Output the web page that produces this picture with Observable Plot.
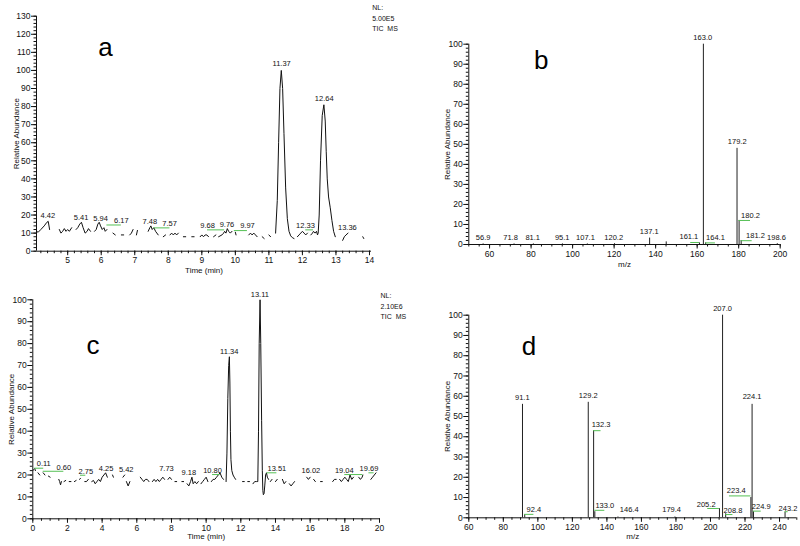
<!DOCTYPE html>
<html><head><meta charset="utf-8">
<script src="https://cdn.jsdelivr.net/npm/d3@7"></script>
<script src="https://cdn.jsdelivr.net/npm/@observablehq/plot@0.6"></script>
<style>
body{margin:0;background:#fff;}
#root{position:relative;width:800px;height:546px;overflow:hidden;background:#fff;}
#root svg{position:absolute;overflow:visible;}
</style></head><body><div id="root"></div>
<script>
// ---------- Panel a: TIC chromatogram (time min, relative abundance) ----------
const traceA = [
[4.07,11],[4.12,10.5],[4.2,12],[4.3,14],[4.38,16],[4.42,16.5],[4.46,12],[4.47,null],
[4.75,12],[4.8,10],[4.85,11],[4.9,12.5],[4.95,11],[5.0,12],[5.05,11],[5.12,13],[5.13,null],
[5.25,12],[5.3,13],[5.36,15],[5.41,16],[5.46,13],[5.52,10],[5.58,11],[5.62,12.5],[5.68,11],[5.69,null],
[5.8,11],[5.85,12],[5.9,15],[5.94,16],[5.98,14],[6.03,12],[6.08,13],[6.12,11],[6.17,12],[6.18,null],
[6.35,10],[6.42,9],[6.43,null],[6.6,9],[6.67,9],[6.68,null],[6.85,9],[6.9,10],[6.95,12],[6.96,null],[7.05,9],[7.08,11.5],[7.09,null],
[7.4,11],[7.45,13],[7.48,14],[7.52,12],[7.57,13],[7.62,11],[7.7,9],[7.71,null],
[7.85,8],[7.92,9],[7.93,null],[8.05,9],[8.1,10],[8.15,9],[8.2,10],[8.25,9],[8.3,10],[8.31,null],
[8.45,8],[8.52,8],[8.53,null],[8.7,8],[8.77,8],[8.78,null],
[8.95,8],[9.0,9],[9.05,8],[9.1,9],[9.15,9],[9.2,8],[9.21,null],
[9.35,8],[9.42,9],[9.43,null],
[9.5,8],[9.6,9],[9.65,10],[9.68,11],[9.72,10],[9.76,12.5],[9.8,11],[9.85,10],[9.9,11],[9.91,null],
[10.0,10.5],[10.02,9],[10.03,null],
[10.4,9],[10.45,10],[10.5,9],[10.55,10],[10.6,9],[10.65,8],[10.66,null],
[10.8,8],[10.86,7],[10.87,null],[11.0,9],[11.05,8],[11.06,null],
[11.2,10],[11.25,28],[11.29,60],[11.33,90],[11.37,100],[11.41,90],[11.45,65],[11.5,35],[11.55,18],[11.6,11],[11.65,8.5],[11.7,7.5],[11.75,7],[11.76,null],
[11.85,8],[11.9,9],[11.95,10],[12.0,11],[12.05,10],[12.1,9],[12.15,10],[12.16,null],
[12.25,9],[12.3,10],[12.33,11],[12.38,10],[12.42,11],[12.45,9],
[12.47,10],[12.5,20],[12.54,50],[12.59,75],[12.64,81],[12.68,72],[12.71,55],[12.74,40],[12.78,30],[12.83,24],[12.88,17],[12.93,11],[12.98,8],[12.99,null],
[13.2,6],[13.25,8],[13.3,9],[13.36,10],[13.37,null],[13.8,8],[13.83,7]
];
const labelsA = [
["4.42",4.41,18.5],["5.41",5.40,17.4],["5.94",5.98,16.6],["6.17",6.60,15.7],["7.48",7.45,14.8],
["7.57",8.04,13.9],["9.68",9.17,13.1],["9.76",9.75,13.4],["9.97",10.36,12.6],["11.37",11.38,102.5],
["12.33",12.09,13.1],["12.64",12.65,83.3],["13.36",13.34,12.0]
];
const leadersA = [[6.17,6.60,14.5],[7.57,8.05,12.9],[9.17,9.68,11.8],[9.97,10.36,11.4],[12.10,12.33,11.8]];
const infoA = "NL:\n5.00E5\nTIC  MS";

// ---------- Panel b: mass spectrum ----------
const specB = [[56.9,0.3],[71.8,0.3],[81.1,0.3],[95.1,0.3],[107.1,0.3],[120.2,0.4],[137.1,3.2],[145.1,1.3],
[161.1,0.8],[163.0,100],[164.1,0.8],[179.2,48],[180.2,12],[181.2,2],[198.6,0.4]];
const labelsB = [["56.9",56.9,2.3],["71.8",70.1,2.3],["81.1",80.8,2.3],["95.1",95,2.3],["107.1",106.2,2.3],
["120.2",119.8,2.3],["137.1",136.9,5],["161.1",156,2.8],["163.0",162.7,102],["164.1",168.8,2.3],
["179.2",179.3,50],["180.2",185.7,13.3],["181.2",188.1,3.3],["198.6",198.2,2.3]];
const leadersB = [[156.9,161.1,1],[164.1,168.8,0.8],[180.2,185.7,12],[181.2,186.5,1.9]];

// ---------- Panel c: TIC chromatogram ----------
const traceC = [
[0.0,22],[0.05,22.5],[0.11,23],[0.15,22],[0.16,null],
[0.3,21],[0.4,20],[0.41,null],[0.6,21],[0.7,20],[0.71,null],[0.9,19.5],[1.0,19],[1.01,null],
[1.5,18],[1.55,17],[1.6,15.5],[1.65,17],[1.66,null],[1.8,17],[1.9,17.5],[1.91,null],[2.1,17],[2.2,17],[2.21,null],
[2.4,17],[2.5,17.5],[2.51,null],[2.7,18],[2.75,18.5],[2.76,null],
[3.0,17],[3.1,17],[3.2,18],[3.21,null],[3.4,17],[3.5,17.5],[3.6,16],[3.7,17],[3.8,18],[3.9,17],[4.0,19],[4.1,20],[4.2,21],[4.25,20],[4.3,19],[4.31,null],
[4.6,20],[4.65,19],[4.66,null],[5.2,19],[5.3,20],[5.31,null],[5.4,17],[5.5,15],[5.6,17],[5.61,null],
[6.2,19],[6.3,18],[6.4,17],[6.5,18],[6.6,18],[6.7,17],[6.71,null],[6.9,17],[7.0,18],[7.1,17],[7.2,18],[7.3,17],[7.4,18],[7.5,19],[7.6,18],[7.61,null],
[7.8,18],[7.9,19],[8.0,18],[8.01,null],
[8.2,17],[8.3,17],[8.31,null],[8.6,17],[8.7,17],[8.71,null],[8.9,16],[9.0,15],[9.1,17],[9.18,19],[9.25,16],[9.35,17],[9.45,16],[9.55,17],[9.56,null],
[9.7,16],[9.8,17],[9.9,18],[10.0,19],[10.1,17],[10.11,null],[10.3,17],[10.4,18],[10.5,18],[10.6,19],[10.7,20],[10.8,21],[10.9,19],[11.0,18],[11.01,null],
[11.15,17],[11.2,30],[11.25,55],[11.3,70],[11.34,74],[11.37,62],[11.4,40],[11.43,27],[11.48,22],[11.55,20],[11.62,19],[11.7,18],[11.71,null],
[12.1,17],[12.2,17],[12.21,null],[12.4,17],[12.5,17],[12.51,null],[12.7,16],[12.8,17],[12.9,17],
[12.98,17],[13.02,40],[13.06,80],[13.11,100],[13.15,80],[13.2,45],[13.24,22],[13.27,13],[13.3,11],[13.34,11.5],[13.38,15],[13.43,20],[13.48,21],[13.53,19],[13.6,18],[13.61,null],
[13.7,17],[13.8,18],[13.81,null],[14.0,17],[14.1,18],[14.11,null],[14.4,18],[14.5,16],[14.6,17],[14.61,null],[14.8,16],[14.9,15],[15.0,16],[15.1,17],[15.11,null],
[15.8,19],[15.9,18],[16.0,19],[16.01,null],[16.2,18],[16.3,17],[16.31,null],[16.6,17],[16.7,17],[16.71,null],
[17.3,17],[17.4,18],[17.5,18],[17.51,null],[17.7,18],[17.8,17],[17.9,18],[18.0,19],[18.1,18],[18.2,17],[18.3,20],[18.4,18],[18.5,19],[18.51,null],
[18.8,19],[18.9,18],[19.0,19],[19.04,20],[19.05,null],[19.5,18],[19.6,19],[19.7,20],[19.8,21]
];
const labelsC = [["0.11",0.63,24.0],["0.60",1.79,22.4],["2.75",3.06,20.5],["4.25",4.23,21.6],["5.42",5.39,21.3],
["7.73",7.71,21.6],["9.18",9.0,20.2],["10.80",10.37,21.0],["11.34",11.33,75.3],["13.11",13.1,101.5],
["13.51",14.08,21.6],["16.02",16.04,20.9],["19.04",17.97,21.0],["19.69",19.39,22.0]];
const leadersC = [[0.11,0.63,23.1],[0.60,1.79,21.7],[2.75,3.06,19.9],[10.37,10.80,20.2],[13.51,14.08,21.0],[18.0,19.04,20.2],[19.39,19.69,21.0]];
const infoC = "NL:\n2.10E6\nTIC  MS";

// ---------- Panel d: mass spectrum ----------
const specD = [[91.1,56],[92.4,1.5],[129.2,57],[132.3,43],[133.0,3],[146.4,0.4],[179.4,0.4],[205.2,4.5],
[207.0,100],[208.8,2],[223.4,10],[224.1,56],[224.9,3],[243.2,2.8]];
const labelsD = [["91.1",91,58],["92.4",97.7,2.8],["129.2",129.2,59],["132.3",136.6,44.7],["133.0",138.8,4.9],
["146.4",152.9,2.8],["179.4",177.5,2.8],["205.2",197.5,5.2],["207.0",207,102],["208.8",213,2.5],
["223.4",214.9,12.1],["224.1",224.1,58.4],["224.9",229.4,4.3],["243.2",244.9,3.6]];
const leadersD = [[92.4,97.7,1.7],[132.3,136.6,43],[133.0,138.8,3.7],[198.4,205.2,4.6],[208.8,213,1.6],[211,223.4,10.8],[224.9,229.4,3.3],[243.2,245,3]];

const GREEN = "#55c055";
const FONT = "'Liberation Sans', Arial, sans-serif";
const root = document.getElementById("root");

function panel(o) {
  const marks = [
    Plot.ruleY([0], {stroke: "#111", strokeWidth: 1}),
    Plot.ruleX([o.xDomain[0]], {stroke: "#111", strokeWidth: 1}),
    Plot.axisX(o.xMinor, {tickSize: 2.5, tickFormat: () => "", label: null, stroke: "#111"}),
    Plot.axisX(o.xMajor, {tickSize: 4.5, tickPadding: 1.5, tickFormat: "d", label: null, stroke: "#111", fill: "#111", fontSize: 8.5}),
    Plot.axisY(o.yMinor, {tickSize: 2.5, tickFormat: () => "", label: null, stroke: "#111"}),
    Plot.axisY(o.yMajor, {tickSize: 5, tickPadding: 1, tickFormat: "d", label: null, stroke: "#111", fill: "#111", fontSize: 8.5}),
    ...o.marks,
    Plot.ruleY(o.leaders, {x1: d => d[0], x2: d => d[1], y: d => d[2], stroke: GREEN, strokeWidth: 1}),
    Plot.text(o.labels, {x: d => d[1], y: d => d[2], text: d => d[0], fontSize: 7.5, lineAnchor: "bottom", textAnchor: "middle", fill: "#111"}),
    Plot.text([o.xTitle], {frameAnchor: "bottom", dy: o.xTitleDy, lineAnchor: "bottom", fontSize: 8, fill: "#111"}),
    Plot.text(["Relative Abundance"], {frameAnchor: "left", dx: o.yTitleDx, rotate: -90, lineAnchor: "bottom", textAnchor: "middle", fontSize: 8, fill: "#111"}),
    Plot.text([o.letter], {frameAnchor: "top-left", dx: o.letterPos[0], dy: o.letterPos[1], lineAnchor: "bottom", textAnchor: "middle", fontSize: 26, fill: "#000"})
  ];
  if (o.info) marks.push(Plot.text([o.info], {frameAnchor: "top-left", dx: o.infoPos[0], dy: o.infoPos[1], lineAnchor: "top", textAnchor: "start", lineHeight: 1.5, fontSize: 7, fill: "#111"}));
  const svg = Plot.plot({
    width: o.width, height: o.height,
    marginLeft: o.m[0], marginRight: o.m[1], marginTop: o.m[2], marginBottom: o.m[3],
    x: {domain: o.xDomain, axis: null},
    y: {domain: o.yDomain, axis: null},
    style: {fontFamily: FONT, fontSize: "8.5px", background: "transparent", overflow: "visible", color: "#111"},
    marks
  });
  svg.style.left = o.left + "px";
  svg.style.top = o.top + "px";
  root.appendChild(svg);
}

const r = (a, b, s) => d3.range(Math.round(a / s), Math.round(b / s) + 1).map(i => +(i * s).toFixed(3));

panel({
  left: 0, top: 0, width: 400, height: 280, m: [36, 29, 15.7, 29.3],
  xDomain: [4.07, 14.06], yDomain: [0, 130],
  xMajor: r(5, 14, 1), xMinor: r(4.2, 14, 0.2), yMajor: r(0, 130, 10), yMinor: r(0, 130, 2),
  marks: [Plot.line(traceA, {x: d => d[0], y: d => d[1], stroke: "#111", strokeWidth: 1})],
  leaders: leadersA, labels: labelsA, xTitle: "Time (min)", xTitleDy: 22, yTitleDx: -17.5,
  letter: "a", letterPos: [69, 39.3], info: infoA, infoPos: [335.7, -13.2]
});
panel({
  left: 400, top: 0, width: 400, height: 280, m: [68.3, 20.3, 43.7, 36],
  xDomain: [50, 200], yDomain: [0, 100],
  xMajor: r(60, 200, 20), xMinor: r(50, 200, 5), yMajor: r(0, 100, 10), yMinor: r(0, 100, 2),
  marks: [Plot.ruleX(specB, {x: d => d[0], y1: 0, y2: d => d[1], stroke: "#222", strokeWidth: 1})],
  leaders: leadersB, labels: labelsB, xTitle: "m/z", xTitleDy: 22.5, yTitleDx: -19.3,
  letter: "b", letterPos: [72.4, 24.3]
});
panel({
  left: 0, top: 280, width: 400, height: 266, m: [32.3, 21, 19.3, 27.7],
  xDomain: [0, 20], yDomain: [0, 100],
  xMajor: r(0, 20, 2), xMinor: r(0, 20, 0.5), yMajor: r(0, 100, 10), yMinor: r(0, 100, 2),
  marks: [Plot.line(traceC, {x: d => d[0], y: d => d[1], stroke: "#111", strokeWidth: 1})],
  leaders: leadersC, labels: labelsC, xTitle: "Time (min)", xTitleDy: 20.5, yTitleDx: -18.8,
  letter: "c", letterPos: [60.2, 53.7], info: infoC, infoPos: [347.7, -8.8]
});
panel({
  left: 400, top: 280, width: 400, height: 266, m: [68.3, 3.7, 34.7, 28.7],
  xDomain: [60, 250], yDomain: [0, 100],
  xMajor: r(60, 240, 20), xMinor: r(60, 250, 5), yMajor: r(0, 100, 10), yMinor: r(0, 100, 2),
  marks: [Plot.ruleX(specD, {x: d => d[0], y1: 0, y2: d => d[1], stroke: "#222", strokeWidth: 1})],
  leaders: leadersD, labels: labelsD, xTitle: "m/z", xTitleDy: 21.5, yTitleDx: -19.3,
  letter: "d", letterPos: [60.2, 39.3]
});
</script></body></html>
